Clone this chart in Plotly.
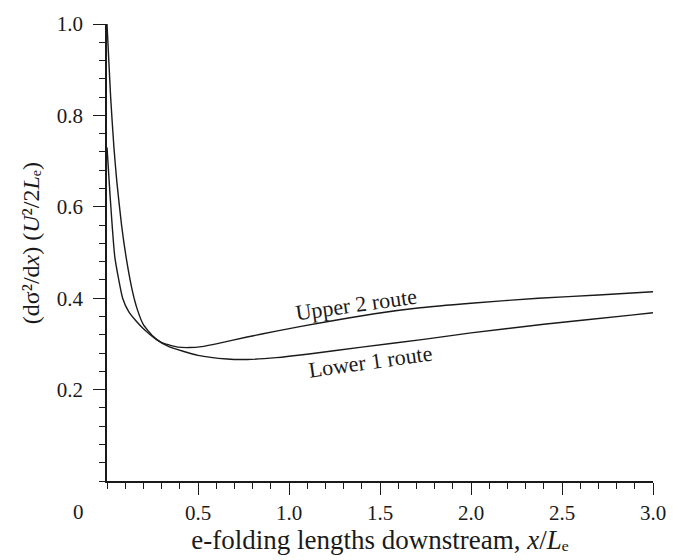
import plotly.graph_objects as go

# Downstream distance in e-folding lengths and the normalised variance growth
upper_x = [0, 0.005, 0.02, 0.038, 0.054, 0.08, 0.107, 0.14, 0.167, 0.2, 0.25, 0.3, 0.34,
           0.39, 0.45, 0.52, 0.6, 0.77, 0.93, 1.2, 1.47, 1.72, 2.0, 2.37, 2.7, 3.0]
upper_y = [1.0, 0.96, 0.84, 0.73, 0.655, 0.56, 0.485, 0.415, 0.375, 0.342, 0.318, 0.303, 0.298,
           0.293, 0.292, 0.294, 0.30, 0.315, 0.328, 0.348, 0.366, 0.379, 0.389, 0.40, 0.407, 0.414]

lower_x = [0, 0.005, 0.016, 0.043, 0.086, 0.12, 0.16, 0.2, 0.27, 0.34, 0.5, 0.66, 0.77,
           0.93, 1.11, 1.4, 1.74, 2.0, 2.4, 2.88, 3.0]
lower_y = [0.73, 0.70, 0.63, 0.49, 0.40, 0.37, 0.35, 0.333, 0.31, 0.294, 0.275, 0.267, 0.266,
           0.27, 0.278, 0.293, 0.31, 0.324, 0.343, 0.363, 0.368]

x_ticks = [0.5, 1.0, 1.5, 2.0, 2.5, 3.0]
x_labels = ["0.5", "1.0", "1.5", "2.0", "2.5", "3.0"]
y_ticks = [0.2, 0.4, 0.6, 0.8, 1.0]
y_labels = ["0.2", "0.4", "0.6", "0.8", "1.0"]

serif = "Liberation Serif, Times New Roman, serif"
ink = "#1a1a1a"

fig = go.Figure()
for xs, ys, name in [(upper_x, upper_y, "Upper 2 route"), (lower_x, lower_y, "Lower 1 route")]:
    fig.add_trace(go.Scatter(x=xs, y=ys, mode="lines", name=name,
                             line=dict(color=ink, width=1.4, shape="spline", smoothing=0.5)))

# curve labels
fig.add_annotation(x=1.37, y=0.386, text="Upper 2 route", showarrow=False, textangle=-8,
                   font=dict(family=serif, size=22, color=ink))
fig.add_annotation(x=1.45, y=0.262, text="Lower 1 route", showarrow=False, textangle=-8,
                   font=dict(family=serif, size=22, color=ink))

# shared origin label
fig.add_annotation(x=0, y=0, text="0", showarrow=False, xshift=-29, yshift=-31,
                   font=dict(family=serif, size=21, color=ink))

# y-axis title
fig.add_annotation(xref="paper", yref="paper", x=(15 - 107) / 557, y=0.52,
                   text="(d\u03c3\u00b2/d<i>x</i>) (<i>U</i>\u00b2/2<i>L</i>\u2091)",
                   showarrow=False, textangle=-90,
                   font=dict(family=serif, size=24, color=ink))

axis_common = dict(showgrid=False, zeroline=False, showline=True, linecolor=ink, linewidth=1.5,
                   ticks="outside", tickcolor=ink, tickwidth=1.2, ticklen=12,
                   ticklabeloverflow="allow",
                   tickfont=dict(family=serif, size=21, color=ink))

fig.update_xaxes(range=[0, 3.0], tickvals=x_ticks, ticktext=x_labels,
                 minor=dict(dtick=0.1, tick0=0, ticks="outside", ticklen=6, tickcolor=ink, tickwidth=1),
                 title=dict(text="e-folding lengths downstream, <i>x</i>/<i>L</i>\u2091",
                            font=dict(family=serif, size=27, color=ink), standoff=2),
                 **axis_common)
fig.update_yaxes(range=[0, 1.0], tickvals=y_ticks, ticktext=y_labels, ticklabelstandoff=6,
                 minor=dict(dtick=0.04, tick0=0, ticks="outside", ticklen=6, tickcolor=ink, tickwidth=1),
                 **axis_common)

fig.update_layout(width=678, height=560, margin=dict(l=107, r=14, t=15, b=79),
                  paper_bgcolor="white", plot_bgcolor="white", showlegend=False)

fig.write_html("out.html")
